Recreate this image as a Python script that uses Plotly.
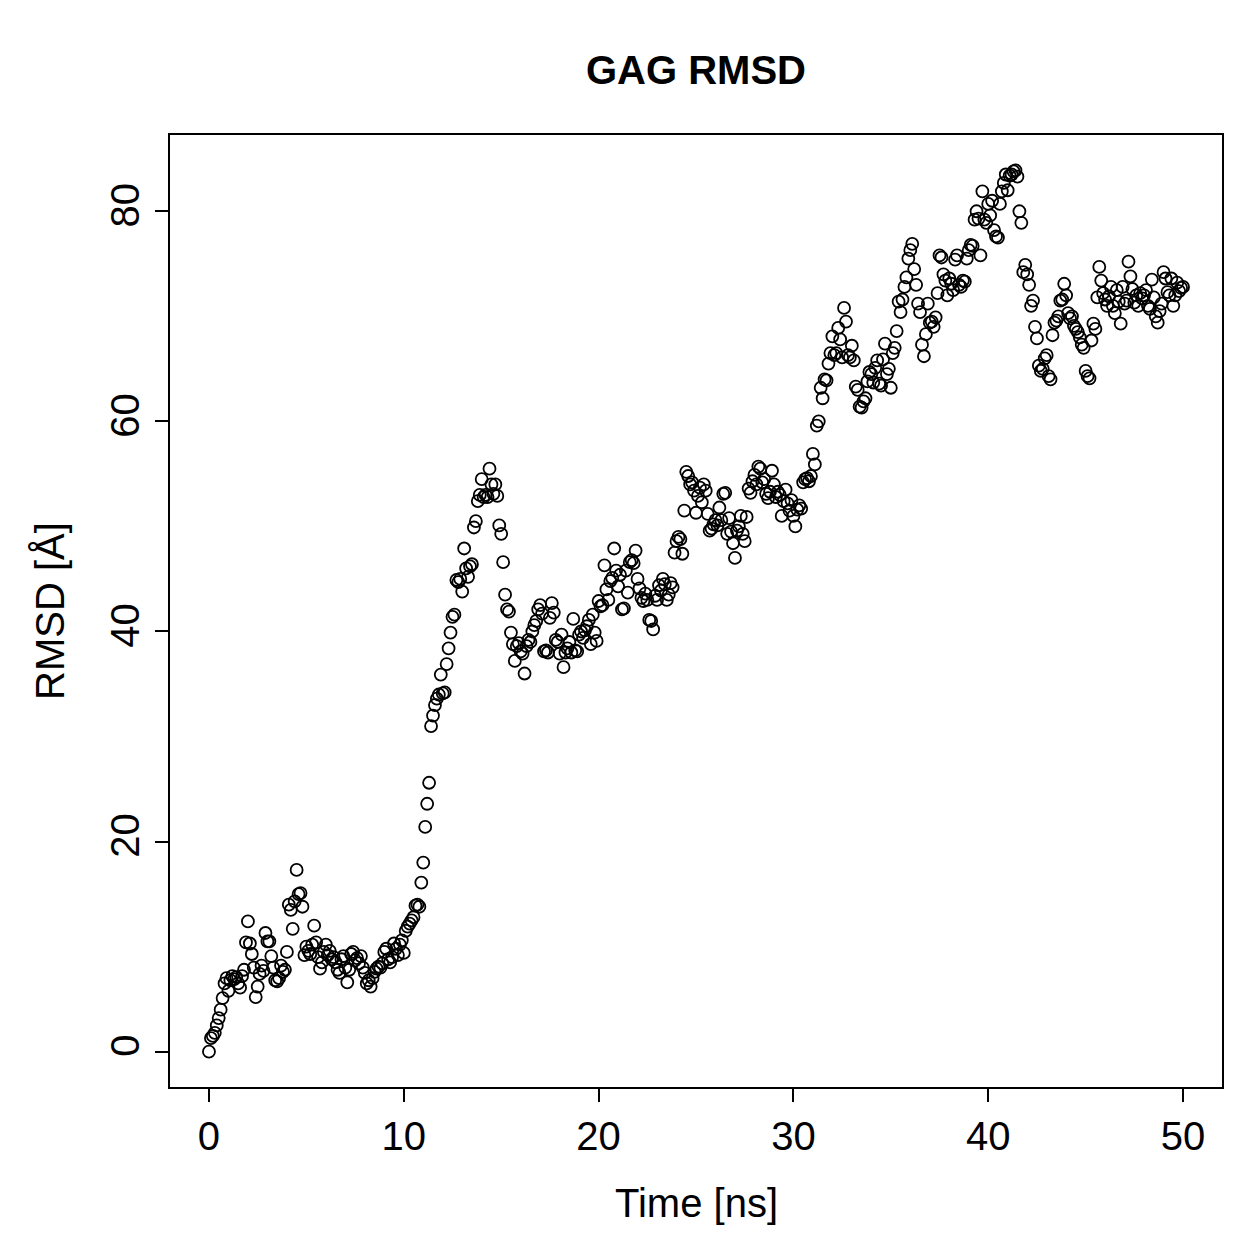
import plotly.graph_objects as go

time_ns = [round(i * 0.1, 1) for i in range(501)]

rmsd = [
    # 0-1
    0.0, 1.3, 1.5, 1.8, 2.5, 3.2, 4.0, 5.1, 6.5, 7.0,
    # 1-2
    5.8, 6.8, 7.2, 6.9, 7.1, 6.5, 6.1, 7.2, 7.8, 10.4,
    # 2-3
    12.4, 10.3, 9.3, 8.0, 5.2, 6.2, 7.4, 8.2, 7.7, 11.3,
    # 3-4
    10.5, 10.5, 9.1, 8.0, 6.8, 6.7, 7.0, 8.2, 7.6, 7.8,
    # 4-5
    9.5, 14.0, 13.5, 11.7, 14.3, 17.3, 15.0, 15.1, 13.8, 9.2,
    # 5-6
    10.0, 9.6, 9.3, 10.2, 12.0, 10.4, 9.0, 7.9, 8.5, 9.5,
    # 6-7
    10.2, 9.2, 9.6, 8.8, 9.0, 8.5, 7.8, 7.5, 8.8, 9.1,
    # 7-8
    8.0, 6.6, 7.8, 9.3, 9.5, 8.7, 8.9, 8.4, 9.1, 8.0,
    # 8-9
    7.5, 6.5, 6.8, 6.2, 7.0, 7.6, 7.9, 8.1, 8.0, 8.4,
    # 9-10
    9.5, 9.8, 8.8, 8.5, 9.0, 10.3, 9.8, 9.2, 10.2, 10.6,
    # 10-11
    9.4, 11.5, 11.9, 12.2, 12.5, 12.8, 13.9, 14.0, 13.8, 16.1,
    # 11-12
    18.0, 21.4, 23.6, 25.6, 31.0, 32.0, 33.0, 33.6, 34.0, 35.9,
    # 12-13
    34.1, 34.2, 36.9, 38.4, 39.9, 41.4, 41.6, 44.9, 44.7, 45.0,
    # 13-14
    43.8, 47.9, 46.0, 45.2, 46.2, 46.4, 49.9, 50.5, 52.4, 53.0,
    # 14-15
    54.5, 52.8, 53.0, 52.8, 55.5, 54.0, 53.1, 54.0, 52.9, 50.1,
    # 15-16
    49.3, 46.6, 43.5, 42.1, 41.9, 39.9, 38.8, 37.2, 38.6, 38.9,
    # 16-17
    38.1, 37.9, 36.0, 38.6, 39.2, 39.0, 40.0, 40.6, 41.0, 42.1,
    # 17-18
    42.5, 41.7, 38.1, 38.2, 38.0, 41.3, 42.7, 41.8, 39.2, 39.0,
    # 18-19
    37.9, 39.7, 36.6, 38.0, 38.4, 39.0, 38.0, 41.2, 38.2, 38.1,
    # 19-20
    39.7, 40.0, 39.4, 40.1, 40.5, 41.1, 38.8, 41.6, 39.9, 39.1,
    # 20-21
    42.9, 42.4, 42.5, 46.3, 44.0, 43.0, 44.8, 45.1, 47.9, 45.8,
    # 21-22
    44.3, 45.4, 42.1, 42.2, 45.8, 43.7, 46.6, 46.8, 46.5, 47.7,
    # 22-23
    45.0, 44.1, 43.2, 42.9, 43.6, 43.0, 41.1, 41.0, 40.2, 43.4,
    # 23-24
    43.0, 44.4, 43.9, 45.0, 44.5, 43.0, 43.5, 44.6, 44.2, 47.5,
    # 24-25
    48.6, 49.0, 48.8, 47.4, 51.5, 55.2, 54.8, 54.0, 54.2, 53.4,
    # 25-26
    51.3, 52.9, 53.7, 52.3, 54.0, 53.4, 51.2, 49.6, 49.8, 50.2,
    # 26-27
    50.6, 50.1, 51.8, 50.6, 53.1, 53.2, 49.3, 50.8, 49.5, 48.4,
    # 27-28
    47.0, 49.6, 50.0, 51.0, 49.3, 48.6, 50.9, 53.6, 53.2, 54.3,
    # 28-29
    54.9, 54.0, 55.7, 55.5, 54.2, 54.5, 53.1, 52.7, 53.3, 55.3,
    # 29-30
    54.0, 52.8, 53.3, 53.0, 51.0, 52.4, 53.5, 52.2, 51.5, 52.5,
    # 30-31
    51.0, 50.0, 51.6, 52.0, 51.7, 54.2, 54.5, 54.6, 54.3, 54.8,
    # 31-32
    56.9, 55.9, 59.6, 60.0, 63.2, 62.2, 64.0, 63.9, 65.5, 66.5,
    # 32-33
    68.1, 66.3, 66.5, 68.9, 67.8, 66.1, 70.8, 69.5, 66.3, 66.1,
    # 33-34
    67.2, 65.8, 63.3, 63.0, 61.4, 61.3, 61.9, 62.2, 63.8, 64.7,
    # 34-35
    64.5, 63.7, 65.1, 65.8, 63.6, 63.4, 65.9, 67.4, 64.5, 65.0,
    # 35-36
    63.2, 66.5, 67.0, 68.6, 71.4, 70.4, 71.6, 72.8, 73.7, 75.5,
    # 36-37
    76.3, 76.9, 74.5, 73.0, 71.2, 70.4, 67.3, 66.2, 68.3, 71.2,
    # 37-38
    69.4, 69.5, 69.0, 69.9, 72.2, 75.8, 75.6, 74.0, 73.4, 72.0,
    # 38-39
    73.6, 73.1, 72.5, 75.4, 75.8, 73.0, 72.8, 73.4, 73.3, 75.5,
    # 39-40
    76.3, 76.8, 76.7, 79.2, 80.0, 79.3, 75.8, 81.9, 79.2, 78.9,
    # 40-41
    80.7, 79.6, 81.0, 78.2, 77.6, 77.5, 80.7, 81.9, 82.7, 83.5,
    # 41-42
    82.0, 83.4, 83.5, 83.8, 83.9, 83.3, 80.0, 78.9, 74.2, 74.9,
    # 42-43
    74.0, 73.0, 71.0, 71.5, 69.0, 67.9, 65.3, 64.8, 65.0, 66.0,
    # 43-44
    66.3, 64.3, 64.0, 68.2, 69.4, 69.6, 70.0, 71.5, 71.6, 73.1,
    # 44-45
    72.0, 70.3, 69.8, 70.0, 69.1, 68.8, 68.5, 68.0, 67.3, 67.0,
    # 45-46
    64.8, 64.3, 64.1, 67.7, 69.3, 68.8, 71.8, 74.7, 73.4, 72.2,
    # 46-47
    71.6, 71.0, 71.9, 72.8, 71.0, 70.3, 72.5, 71.4, 69.3, 72.8,
    # 47-48
    71.2, 71.5, 75.2, 73.8, 72.6, 71.3, 72.0, 71.0, 72.2, 71.7,
    # 48-49
    72.0, 72.5, 71.0, 70.7, 73.5, 71.8, 70.0, 69.4, 70.5, 71.2,
    # 49-50
    74.2, 73.6, 72.3, 72.0, 73.6, 71.0, 72.0, 73.2, 72.4, 72.7,
    # 50
    72.8,
]

x_ticks = [0, 10, 20, 30, 40, 50]
y_ticks = [0, 20, 40, 60, 80]

FONT = "Liberation Sans, Arial, Helvetica, sans-serif"
FS = 40

fig = go.Figure()
fig.add_trace(go.Scatter(
    x=time_ns, y=rmsd, mode="markers",
    marker=dict(symbol="circle-open", size=12, color="black",
                line=dict(width=1.8, color="black")),
    showlegend=False,
))

fig.update_layout(
    width=1259, height=1259,
    paper_bgcolor="white", plot_bgcolor="white",
    margin=dict(l=170, r=37, t=135, b=172),
    font=dict(family=FONT, size=FS, color="black"),
    title=dict(text="<b>GAG RMSD</b>", x=0.5, xref="paper",
               y=1 - 70 / 1259, yref="container", yanchor="middle",
               xanchor="center", font=dict(size=FS, family=FONT)),
)

fig.update_xaxes(
    range=[-2, 52], tickvals=x_ticks, ticktext=[str(v) for v in x_ticks],
    ticks="outside", ticklen=13, tickwidth=2, tickcolor="black",
    showline=True, linewidth=2, linecolor="black", mirror=True,
    showgrid=False, zeroline=False, tickfont=dict(size=FS),
)
fig.update_yaxes(
    range=[-3.36, 87.26], tickvals=y_ticks, ticktext=[str(v) for v in y_ticks],
    ticks="outside", ticklen=13, tickwidth=2, tickcolor="black",
    showline=True, linewidth=2, linecolor="black", mirror=True,
    showgrid=False, zeroline=False, tickangle=-90, tickfont=dict(size=FS),
)

fig.add_annotation(text="Time [ns]", xref="paper", yref="paper",
                   x=0.5, y=(1087 - 1203) / 952, showarrow=False,
                   xanchor="center", yanchor="middle", font=dict(size=FS))
fig.add_annotation(text="RMSD [Å]", xref="paper", yref="paper",
                   x=(50 - 170) / 1052, y=0.5, showarrow=False, textangle=-90,
                   xanchor="center", yanchor="middle", font=dict(size=FS))

fig.write_html("out.html")
